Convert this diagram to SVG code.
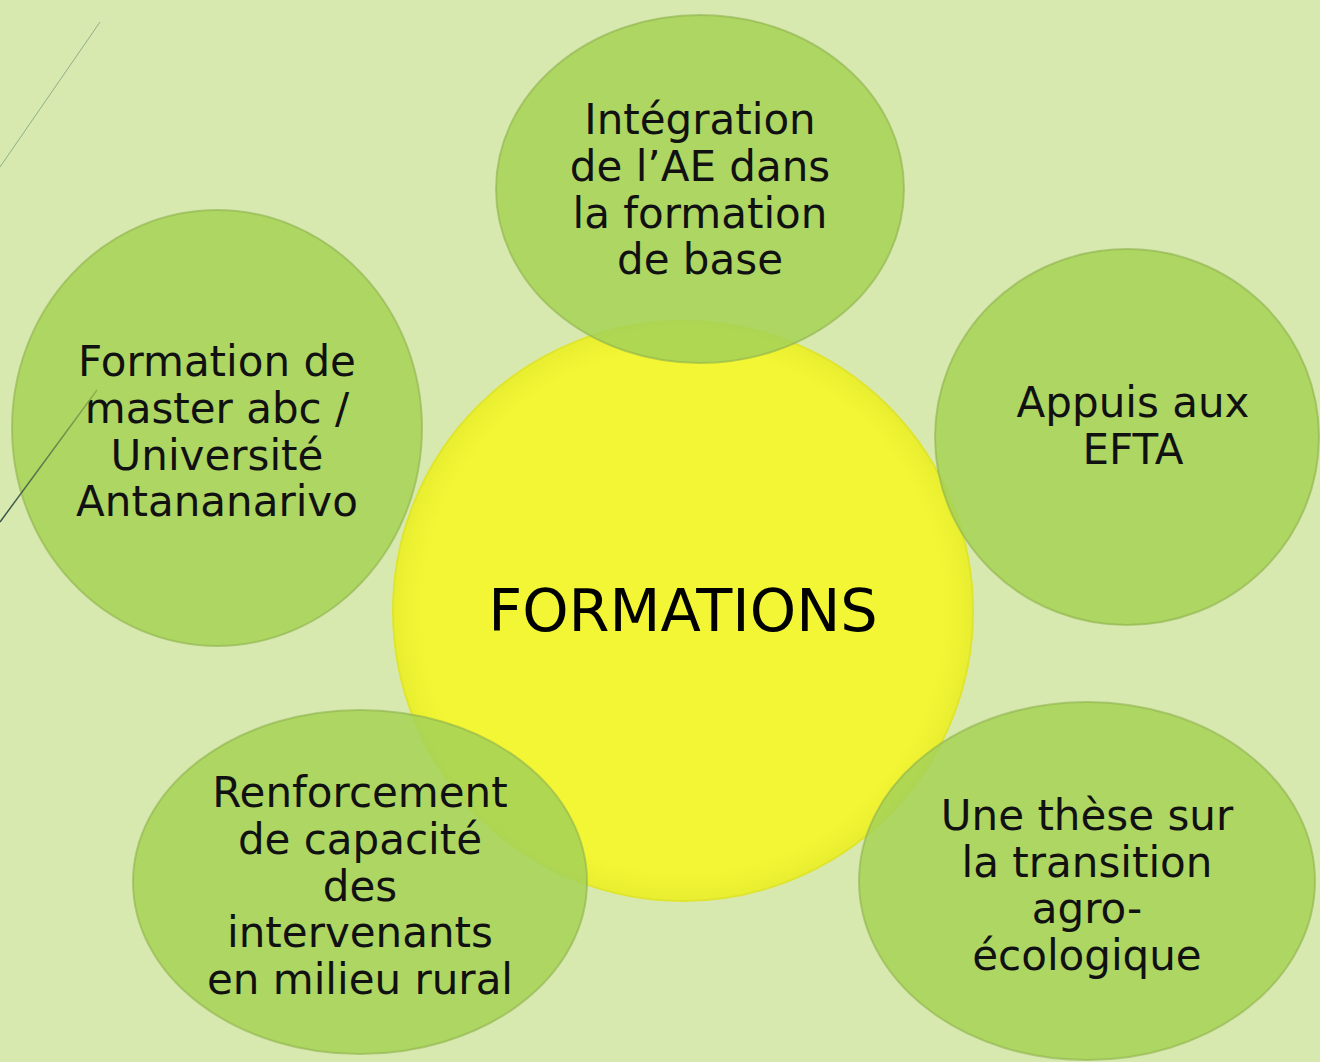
<svg xmlns="http://www.w3.org/2000/svg" width="1320" height="1062" viewBox="0 0 1320 1062">
<style>
.bub{fill:#a6d356;fill-opacity:0.88;stroke:#8fb24e;stroke-opacity:0.6;stroke-width:2}
.t{font-family:"DejaVu Sans","Liberation Sans",sans-serif;font-size:42px;fill:#111;text-anchor:middle}
.c{font-family:"DejaVu Sans","Liberation Sans",sans-serif;font-size:59px;fill:#000;text-anchor:middle}
</style>
<defs>
<radialGradient id="yg" cx="0.5" cy="0.5" r="0.5">
<stop offset="0.9" stop-color="#f3f634"/>
<stop offset="1" stop-color="#e8ee30"/>
</radialGradient>
<linearGradient id="lg" x1="97" y1="390" x2="0" y2="522" gradientUnits="userSpaceOnUse">
<stop offset="0" stop-color="#8fb24e"/>
<stop offset="1" stop-color="#34504a"/>
</linearGradient>
</defs>
<rect width="1320" height="1062" fill="#d8e9b0"/>
<line x1="100" y1="22" x2="0" y2="167" stroke="#8fae8a" stroke-width="1"/>
<g id="center">
<circle cx="683" cy="611" r="290" fill="url(#yg)" stroke="#dfe52e" stroke-width="2"/>
<text class="c" x="683" y="631">FORMATIONS</text>
</g>
<g id="top">
<ellipse class="bub" cx="700" cy="189" rx="204" ry="174"/>
<text class="t" x="700" y="134">Intégration</text>
<text class="t" x="700" y="181">de l’AE dans</text>
<text class="t" x="700" y="228">la formation</text>
<text class="t" x="700" y="274">de base</text>
</g>
<g id="left">
<ellipse class="bub" cx="217" cy="428" rx="205" ry="218"/>
<text class="t" x="217" y="376">Formation de</text>
<text class="t" x="217" y="423">master abc /</text>
<text class="t" x="217" y="470">Université</text>
<text class="t" x="217" y="516">Antananarivo</text>
</g>
<g id="right">
<ellipse class="bub" cx="1127" cy="437" rx="192" ry="188"/>
<text class="t" x="1133" y="417">Appuis aux</text>
<text class="t" x="1133" y="464">EFTA</text>
</g>
<g id="bottomleft">
<ellipse class="bub" cx="360" cy="882" rx="227" ry="172"/>
<text class="t" x="360" y="807">Renforcement</text>
<text class="t" x="360" y="854">de capacité</text>
<text class="t" x="360" y="901">des</text>
<text class="t" x="360" y="947">intervenants</text>
<text class="t" x="360" y="994">en milieu rural</text>
</g>
<g id="bottomright">
<ellipse class="bub" cx="1087" cy="881" rx="228" ry="179"/>
<text class="t" x="1087" y="830">Une thèse sur</text>
<text class="t" x="1087" y="877">la transition</text>
<text class="t" x="1087" y="923">agro-</text>
<text class="t" x="1087" y="970">écologique</text>
</g>
<line x1="97" y1="390" x2="0" y2="522" stroke="url(#lg)" stroke-width="1.5"/>
</svg>
